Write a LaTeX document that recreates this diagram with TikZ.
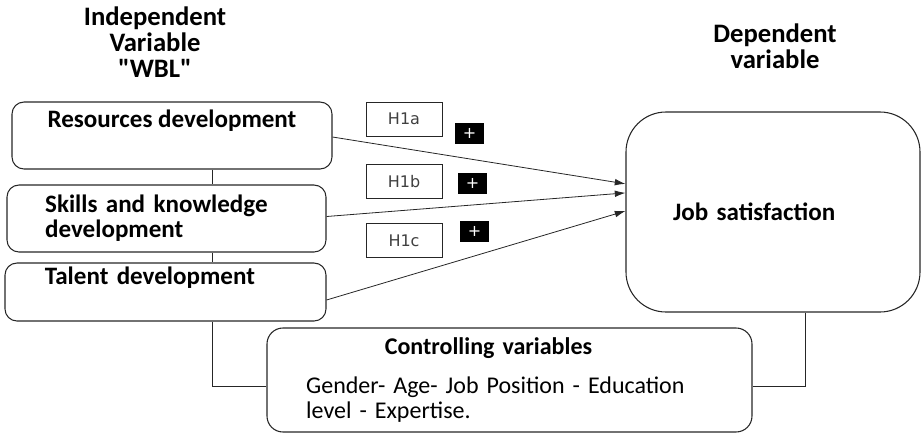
\documentclass[tikz,border=0pt]{standalone}
\usepackage{fontspec}
\setmainfont{Carlito}
\newfontfamily\quotefont{Carlito}
\newfontfamily\hypfont{DejaVu Sans}
\usepackage{tikz}
\usetikzlibrary{arrows.meta}
\usetikzlibrary{calc}

\begin{document}
\begin{tikzpicture}[x=0.75pt,y=0.75pt,yscale=-1,xscale=1,
    varbox/.style={draw=black!85, line width=0.8pt, rounded corners=9pt, inner sep=0pt, align=left, font=\fontsize{18.8}{19}\selectfont\bfseries},
    hypbox/.style={draw=black!85, line width=0.6pt, inner sep=0pt, minimum width=57pt, minimum height=25.5pt, font=\hypfont\fontsize{12}{14}\selectfont, text=black!75},
    signbox/.style={fill=black, text=white, inner sep=0pt, minimum width=21.75pt, minimum height=15.75pt, font=\hypfont\fontsize{12}{12}\selectfont},
    heading/.style={align=center, font=\fontsize{20}{19.5}\selectfont\bfseries},
    link/.style={draw=black!85, line width=0.7pt},
    effect/.style={draw=black!85, line width=0.6pt, -{Latex[length=8pt,width=5pt]}}]
            \useasboundingbox (0,0) rectangle (921,433);
            %headings
            \node[heading] (indep) at (155,42) {Independent\\Variable\\{\quotefont\bfseries"WBL"}};
            \node[heading] (dep) at (775,46.5) {Dependent\\variable};
            %
            %independent variables
            \node[varbox, minimum width=240pt, minimum height=50.25pt] (res) at (172,135.5) {Resources development\\\strut};
            \node[varbox, minimum width=239.25pt, minimum height=50.25pt, text width=182pt] (skl) at (166.5,218.5) {Skills and knowledge\\development};
            \node[varbox, minimum width=240.75pt, minimum height=43.5pt, text width=181pt] (tal) at (165.5,292) {Talent development\\\strut};
            %
            %dependent variable
            \node[varbox, rounded corners=30pt, minimum width=220.5pt, minimum height=150pt, text width=150pt] (job) at (773,212) {Job satisfaction};
            %
            %controlling variables
            \node[varbox, rounded corners=12pt, minimum width=363.75pt, minimum height=78pt, text width=305pt, font=\fontsize{18}{18.75}\selectfont] (ctl) at (509.5,380) {\hspace*{59pt}\textbf{Controlling variables}\\[11pt]Gender- Age- Job Position - Education\\level - Expertise.};
            %
            %hypotheses
            \node[hypbox] (hA) at (404,119) {H1a};
            \node[hypbox] (hB) at (404,181.5) {H1b};
            \node[hypbox] (hC) at (404,240.5) {H1c};
            \node[signbox] (sA) at (469.5,133.5) {+};
            \node[signbox] (sB) at (472.5,183.5) {+};
            \node[signbox] (sC) at (474.5,231.5) {+};
            %
            %links
            \coordinate (spine) at (212,0);
            \coordinate (drop) at (805,0);
            \draw[link] (res.south -| spine) -- (skl.north -| spine);
            \draw[link] (skl.south -| spine) -- (tal.north -| spine);
            \draw[link] (tal.south -| spine) |- ($(ctl.west)+(0,6)$);
            \draw[link] (job.south -| drop) |- ($(ctl.east)+(0,6)$);
            %
            %effects
            \draw[effect] ($(res.east)+(0,1.5)$) -- ($(job.north west)!0.36!(job.south west)$);
            \draw[effect] ($(skl.east)+(0,-2)$) -- ($(job.north west)!0.405!(job.south west)$);
            \draw[effect] ($(tal.east)+(0,8)$) -- ($(job.north west)!0.495!(job.south west)$);
            %
\end{tikzpicture}
\end{document}
